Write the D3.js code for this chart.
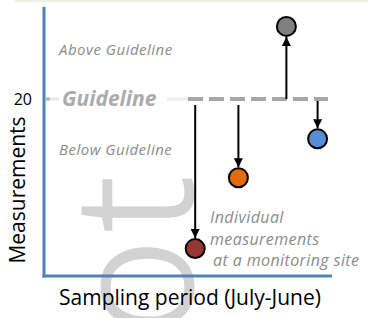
<!DOCTYPE html>
<html>
<head>
<meta charset="utf-8">
<style type="text/css">
    body{
        margin: 0;
        background-color: #fff;
    }
    svg{
        display: block;
        font-family: "Open Sans", sans-serif;
    }
    .note{
        fill: #8c8c8c;
        font-style: italic;
    }
</style>
<script src="https://cdnjs.cloudflare.com/ajax/libs/d3/7.8.5/d3.min.js"></script>
</head>
<body>
<div id="chart"></div>
<script type="text/javascript">
    var width = 368, height = 318;

    // sampling period in months since start of July, measured value
    var months = [6.3, 8.1, 10.1, 11.4];
    var values = [3.1, 11.1, 28.2, 15.5];
    var colors = ['#953735', '#e36c0a', '#808080', '#558ed5'];
    var guideline = 20;
    var yTicks = [20];

    var xScale = d3.scaleLinear().domain([0, 12]).range([44, 332]);
    var yScale = d3.scaleLinear().domain([0, 20]).range([276, 99]);
    var r = 9.5;
    var gy = yScale(guideline);

    var svg = d3.select('#chart')
        .append('svg')
        .attr('width', width)
        .attr('height', height);

    svg.append('defs').append('marker')
        .attr('id', 'head')
        .attr('markerUnits', 'userSpaceOnUse')
        .attr('viewBox', '0 0 10 10')
        .attr('markerWidth', 9)
        .attr('markerHeight', 9)
        .attr('refX', 10)
        .attr('refY', 5)
        .attr('orient', 'auto')
        .append('path')
        .attr('d', 'M0,0L10,5L0,10z')
        .attr('fill', '#000');

    // pale band along the top
    svg.append('rect')
        .attr('x', 15).attr('y', 0)
        .attr('width', width - 15).attr('height', 2)
        .attr('fill', '#eef0e2');

    // faint watermark behind everything
    svg.append('text')
        .attr('transform', 'translate(191,336) rotate(-90)')
        .attr('font-size', 165)
        .attr('font-weight', 300)
        .attr('letter-spacing', 8)
        .attr('fill', '#d2d2d2')
        .attr('stroke', '#d2d2d2')
        .attr('stroke-width', 3)
        .text('ot');

    // axes
    svg.append('line')
        .attr('x1', xScale(0)).attr('x2', xScale(0))
        .attr('y1', 7).attr('y2', yScale(0) + 1.5)
        .attr('stroke', '#4f81bd').attr('stroke-width', 3);
    svg.append('line')
        .attr('x1', xScale(0) - 1.5).attr('x2', xScale(12))
        .attr('y1', yScale(0)).attr('y2', yScale(0))
        .attr('stroke', '#4f81bd').attr('stroke-width', 3);

    svg.selectAll('.ytick')
        .data(yTicks)
        .enter()
        .append('text')
        .attr('class', 'ytick')
        .attr('x', 32)
        .attr('y', function(d){ return yScale(d) + 6; })
        .attr('text-anchor', 'end')
        .attr('font-size', 16)
        .attr('fill', '#000')
        .text(function(d){ return d; });

    svg.append('text')
        .attr('transform', 'translate(25,190) rotate(-90)')
        .attr('text-anchor', 'middle')
        .attr('font-size', 21)
        .attr('fill', '#000')
        .text('Measurements');

    svg.append('text')
        .attr('x', 190).attr('y', 305)
        .attr('text-anchor', 'middle')
        .attr('font-size', 21)
        .attr('fill', '#000')
        .text('Sampling period (July-June)');

    // guideline
    svg.append('line')
        .attr('x1', 46).attr('x2', 59)
        .attr('y1', gy).attr('y2', gy)
        .attr('stroke', '#e8e8e8').attr('stroke-width', 3);
    svg.append('line')
        .attr('x1', 45).attr('x2', 50)
        .attr('y1', gy).attr('y2', gy)
        .attr('stroke', '#b4b4b4').attr('stroke-width', 3);
    svg.append('line')
        .attr('x1', 167).attr('x2', 188)
        .attr('y1', gy).attr('y2', gy)
        .attr('stroke', '#ececec').attr('stroke-width', 3);
    svg.append('text')
        .attr('x', 62).attr('y', gy + 7)
        .attr('font-size', 21)
        .attr('font-weight', 'bold')
        .attr('font-style', 'italic')
        .attr('fill', '#ababab')
        .text('Guideline');
    svg.append('line')
        .attr('x1', 188).attr('x2', 328)
        .attr('y1', gy).attr('y2', gy)
        .attr('stroke', '#a6a6a6').attr('stroke-width', 4)
        .attr('stroke-dasharray', '15,6');

    svg.append('text').attr('class', 'note')
        .attr('x', 59).attr('y', 55).attr('font-size', 15)
        .attr('letter-spacing', 0.5)
        .text('Above Guideline');
    svg.append('text').attr('class', 'note')
        .attr('x', 59).attr('y', 155).attr('font-size', 15)
        .attr('letter-spacing', 0.5)
        .text('Below Guideline');

    var note = svg.append('text').attr('class', 'note')
        .attr('font-size', 16).attr('letter-spacing', 0.4);
    note.append('tspan').attr('x', 210).attr('y', 223).text('Individual');
    note.append('tspan').attr('x', 210).attr('y', 245).text('measurements');
    note.append('tspan').attr('x', 213).attr('y', 266).text('at a monitoring site');

    // arrows from the guideline to each measurement
    var pts = months.map(function(m, i){
        return {x: xScale(m), y: yScale(values[i]), v: values[i], c: colors[i]};
    });

    svg.selectAll('.arrow')
        .data(pts)
        .enter()
        .append('line')
        .attr('class', 'arrow')
        .attr('x1', function(d){ return d.x; })
        .attr('x2', function(d){ return d.x; })
        .attr('y1', function(d){
            if (d.v > guideline) return gy;
            return d.x > xScale(11) ? gy + 2 : gy + 6;
        })
        .attr('y2', function(d){
            return d.v > guideline ? d.y + r + 1 : d.y - r - 1;
        })
        .attr('stroke', '#000')
        .attr('stroke-width', 2)
        .attr('marker-end', 'url(#head)');

    svg.selectAll('.dot')
        .data(pts)
        .enter()
        .append('circle')
        .attr('class', 'dot')
        .attr('cx', function(d){ return d.x; })
        .attr('cy', function(d){ return d.y; })
        .attr('r', r)
        .attr('fill', function(d){ return d.c; })
        .attr('stroke', '#000')
        .attr('stroke-width', 2);
</script>
</body>
</html>
